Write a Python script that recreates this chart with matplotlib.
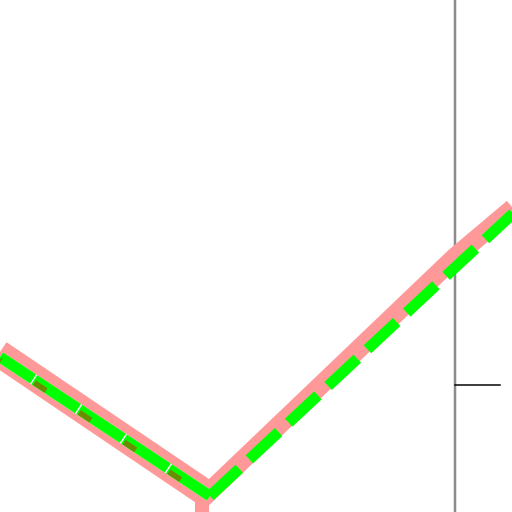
import matplotlib
matplotlib.use("Agg")
import matplotlib.pyplot as plt

plt.rcParams['lines.scale_dashes'] = False

PT = 0.72  # points per pixel at dpi 100

# Data (pixel-like units, y grows downward)
pink_left_x = [-40, 207]
pink_left_y = [327, 494]
pink_right_x = [207, 455, 550]
pink_right_y = [494, 257, 177]
stub_x = [202, 202]
stub_y = [490, 530]

green_left_x = [0, 210]
green_left_y = [357, 496]
green_right_x = [210, 550]
green_right_y = [496, 179]

olive_shift = 3

vline_x = 455
tick_y = 385
tick_x = [455, 500]

fig = plt.figure(figsize=(5.12, 5.12), dpi=100)
ax = fig.add_axes([0, 0, 1, 1])
ax.set_xlim(0, 512)
ax.set_ylim(512, 0)
ax.axis('off')

pink = '#ff9999'
ax.plot(pink_left_x, pink_left_y, color=pink, lw=27 * PT, solid_capstyle='butt', zorder=1)
frac = 200 / (pink_left_x[1] - pink_left_x[0])
ax.plot([pink_left_x[0] + 200, pink_left_x[1]] + pink_right_x[1:],
        [pink_left_y[0] + (pink_left_y[1] - pink_left_y[0]) * frac, pink_left_y[1]] + pink_right_y[1:],
        color=pink, lw=19 * PT, solid_joinstyle='miter', solid_capstyle='butt', zorder=1)
ax.plot(stub_x, stub_y, color=pink, lw=14 * PT, solid_capstyle='butt', zorder=1)

ax.axvline(vline_x, color='#8c8c8c', lw=2.5 * PT, zorder=0.5)
ax.plot(tick_x, [tick_y, tick_y], color='black', lw=1.5 * PT, zorder=3)

# left green: white underlay, green long dashes, olive short marks
ax.plot(green_left_x, green_left_y, color='white', lw=11 * PT,
        solid_capstyle='butt', zorder=2)
ax.plot(green_left_x, green_left_y, color='#00ff00', lw=11 * PT,
        linestyle=(12.6 * PT, (52.3 * PT, 1.5 * PT)), dash_capstyle='butt', zorder=2.1)
ax.plot(green_left_x, [v + olive_shift for v in green_left_y], color='#6b8c00',
        lw=5.5 * PT, linestyle=(12.6 * PT, (14 * PT, 39.8 * PT)),
        dash_capstyle='butt', zorder=2.2)

# right green dashed
ax.plot(green_right_x, green_right_y, color='#00ff00', lw=11 * PT,
        linestyle=(0, (40 * PT, 13.8 * PT)), dash_capstyle='butt', zorder=2.1)

fig.savefig('out.png', dpi=100)
